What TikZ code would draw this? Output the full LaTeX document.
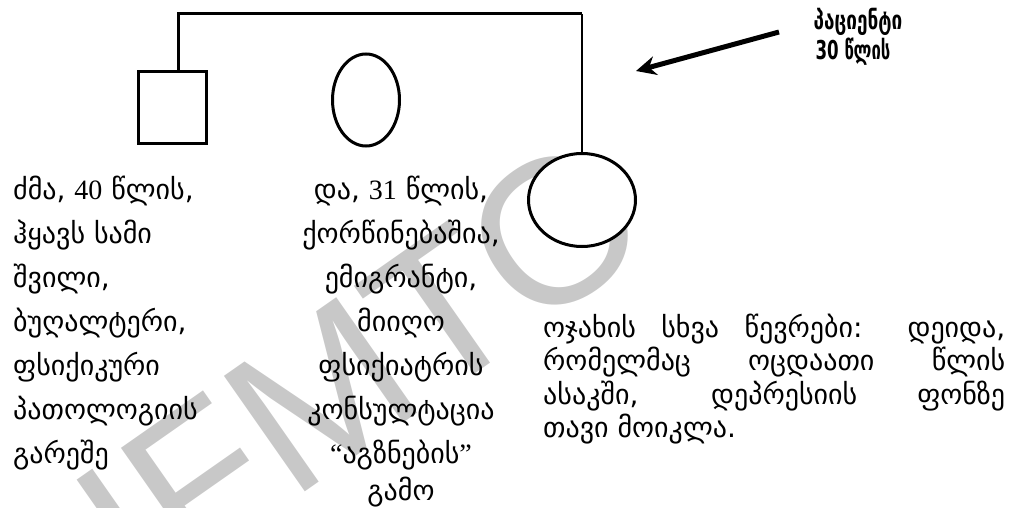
\documentclass[tikz,border=0pt]{standalone}
\usepackage{fontspec}
\usepackage{graphicx}
\usetikzlibrary{arrows.meta,shapes.geometric}
\setmainfont{DejaVu Sans}
\newfontfamily\latf{Liberation Serif}
\newfontfamily\wmf{Liberation Sans}
\definecolor{wmgray}{RGB}{200,200,200}
\newcommand\gsz{\fontsize{28}{32}\selectfont}
\newcommand\nm[1]{{\latf #1}}
\begin{document}
\begin{tikzpicture}[x=1pt,y=-1pt,line join=miter,
  famline/.style={line width=3pt},
  thinline/.style={line width=1.5pt},
  sym/.style={draw,line width=3pt,fill=white,inner sep=0pt},
  gtxt/.style={inner sep=0pt,font=\gsz},
  lab/.style={inner sep=0pt,font=\fontsize{26}{28}\selectfont\bfseries},
  wm/.style={inner sep=0pt,text=wmgray,font=\wmf\fontsize{205}{205}\selectfont}]
\useasboundingbox (0,0) rectangle (1023,508);
% watermark
\node[wm,rotate=35,anchor=east] (wmk) at (621,185) {IFMTO};
% pedigree symbols
\node[sym,rectangle,minimum width=68pt,minimum height=72pt] (brother) at (172.5,107.5) {};
\node[sym,ellipse,minimum width=67pt,minimum height=92pt] (sister) at (366,100) {};
\node[sym,ellipse,minimum width=107pt,minimum height=93pt] (patient) at (582,200) {};
\coordinate (tl) at (178,14);
\coordinate (tr) at (582,14);
\draw[famline] (tl |- brother.north) -- (tl) -- (tr);
\draw[thinline] (tr) -- (patient.north);
% patient label and arrow
\node[lab,anchor=base] (p1) at (858,30) {\scalebox{0.73}[1]{პაციენტი}};
\node[lab,anchor=base] (p2) at (853,60) {\scalebox{0.64}[1]{30 წლის}};
\coordinate (as) at (779,32);
\coordinate (ae) at (636,71);
\draw[line width=5pt,-{Stealth[length=20pt,width=19pt]}] (as) -- (ae);
% brother text
\node[gtxt,anchor=base west] (b1) at (13,199) {ძმა, \nm{40} წლის,};
\node[gtxt,anchor=base west] (b2) at (13,243) {ჰყავს სამი};
\node[gtxt,anchor=base west] (b3) at (13,287) {შვილი,};
\node[gtxt,anchor=base west] (b4) at (13,331) {ბუღალტერი,};
\node[gtxt,anchor=base west] (b5) at (13,375) {ფსიქიკური};
\node[gtxt,anchor=base west] (b6) at (13,419) {პათოლოგიის};
\node[gtxt,anchor=base west] (b7) at (13,463) {გარეშე};
% sister text
\node[gtxt,anchor=base] (s1) at (401,199) {და, \nm{31} წლის,};
\node[gtxt,anchor=base] (s2) at (401,243) {ქორწინებაშია,};
\node[gtxt,anchor=base] (s3) at (401,287) {ემიგრანტი,};
\node[gtxt,anchor=base] (s4) at (401,331) {მიიღო};
\node[gtxt,anchor=base] (s5) at (401,375) {ფსიქიატრის};
\node[gtxt,anchor=base] (s6) at (401,419) {კონსულტაცია};
\node[gtxt,anchor=base] (s7) at (401,463) {\nm{“}აგზნების\nm{”}};
\node[gtxt,anchor=base] (s8) at (401,500) {გამო};
% family text
\node[gtxt,anchor=base west] (f1) at (543,337) {\makebox[462pt][s]{ოჯახის სხვა წევრები: დეიდა,}};
\node[gtxt,anchor=base west] (f2) at (543,370) {\makebox[462pt][s]{რომელმაც ოცდაათი წლის}};
\node[gtxt,anchor=base west] (f3) at (543,404) {\makebox[462pt][s]{ასაკში, დეპრესიის ფონზე}};
\node[gtxt,anchor=base west] (f4) at (543,437) {თავი მოიკლა.};
\end{tikzpicture}
\end{document}
